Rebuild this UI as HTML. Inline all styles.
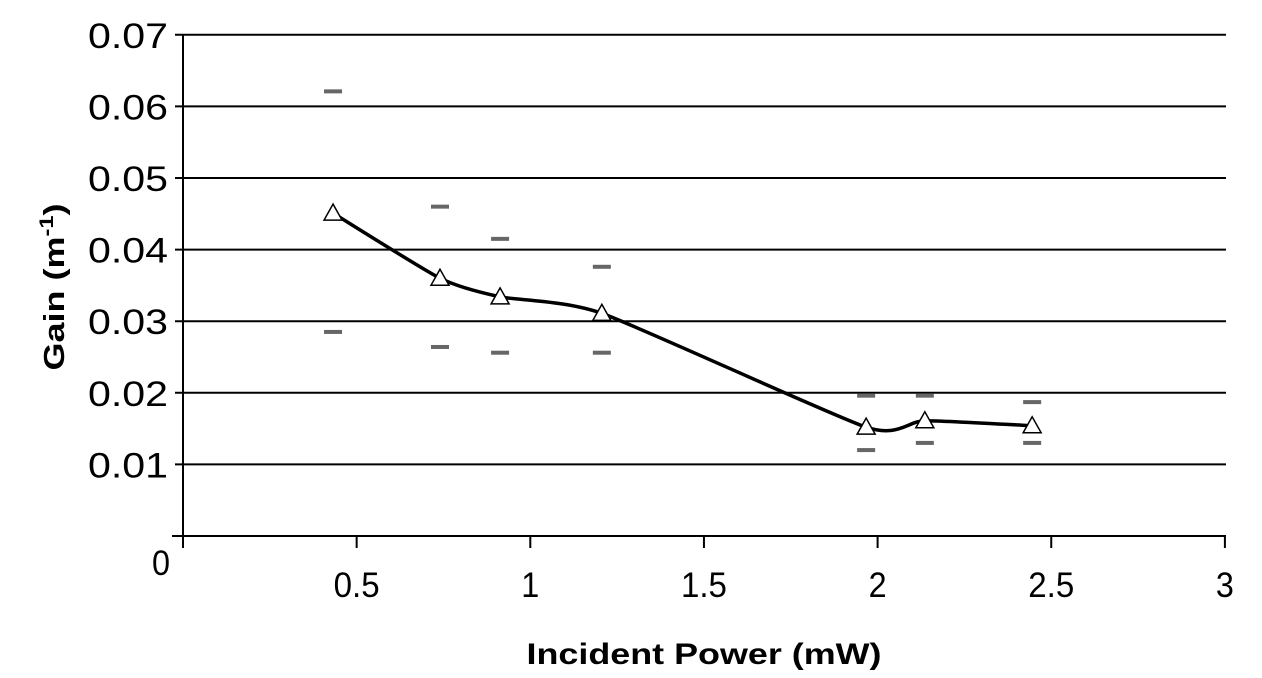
<!DOCTYPE html>
<html><head><meta charset="utf-8"><style>
body{margin:0;background:#fff;}
svg{display:block;font-family:"Liberation Sans",Arial,sans-serif;}
</style></head><body>
<svg id="chart" width="1262" height="678" viewBox="0 0 1262 678">
<g id="grid"></g>
<g id="axes"></g>
<g id="marks"></g>
<text transform="translate(64,287) rotate(-90)" text-anchor="middle" font-size="29" font-weight="bold" textLength="167" lengthAdjust="spacingAndGlyphs">Gain (m<tspan dy="-11" font-size="19">-1</tspan><tspan dy="11">)</tspan></text>
<text x="704" y="664" text-anchor="middle" font-size="30" font-weight="bold" textLength="355" lengthAdjust="spacingAndGlyphs">Incident Power (mW)</text>
</svg>
<script>
const xs=[0.432,0.74,0.913,1.206,1.967,2.136,2.445];
const gain=[0.0451,0.036,0.0334,0.0311,0.0152,0.0161,0.0154];
const upper=[0.0621,0.046,0.0415,0.0376,0.0196,0.0196,0.0187];
const lower=[0.0285,0.0264,0.0256,0.0256,0.012,0.013,0.013];
const yTicks=["0.01","0.02","0.03","0.04","0.05","0.06","0.07"];
const xTicks=["0.5","1","1.5","2","2.5","3"];
const NS="http://www.w3.org/2000/svg";
const X=v=>183+v*347.3, Y=v=>536-v*7160;
function mk(t,a,p){const e=document.createElementNS(NS,t);for(const k in a)e.setAttribute(k,a[k]);p.appendChild(e);return e;}
const grid=document.getElementById('grid'),axes=document.getElementById('axes'),marks=document.getElementById('marks');
yTicks.forEach(t=>{const v=parseFloat(t),y=Y(v);
 const l=mk('line',{x1:175,x2:1226,y1:y,y2:y,stroke:'#000','stroke-width':2},grid);
 
 
 const tx=mk('text',{x:168,y:y+13,'text-anchor':'end','font-size':35,textLength:80,lengthAdjust:'spacingAndGlyphs'},axes);tx.textContent=t;
 
 
});
const ya=mk('line',{x1:183,x2:183,y1:Y(0.07),y2:548,stroke:'#000','stroke-width':2},axes);


const xa=mk('line',{x1:172,x2:1226,y1:536,y2:536,stroke:'#000','stroke-width':2},axes);


const z=mk('text',{x:161,y:575,'text-anchor':'middle','font-size':35,textLength:18,lengthAdjust:'spacingAndGlyphs'},axes);z.textContent='0';


xTicks.forEach(t=>{const x=X(parseFloat(t));
 mk('line',{x1:x,x2:x,y1:536,y2:548,stroke:'#000','stroke-width':2},axes);
 const w=t.length===1?18:(t.length===3?46:80);
 const tx=mk('text',{x:x,y:597,'text-anchor':'middle','font-size':35,textLength:w,lengthAdjust:'spacingAndGlyphs'},axes);tx.textContent=t;
 
 
});
const P=xs.map((v,i)=>[X(v),Y(gain[i])]);
let d='M'+P[0][0]+','+P[0][1];
for(let i=0;i<P.length-1;i++){const p0=P[i-1]||P[i],p1=P[i],p2=P[i+1],p3=P[i+2]||P[i+1];
 d+=` C${p1[0]+(p2[0]-p0[0])/10},${p1[1]+(p2[1]-p0[1])/10} ${p2[0]-(p3[0]-p1[0])/10},${p2[1]-(p3[1]-p1[1])/10} ${p2[0]},${p2[1]}`;}
const path=mk('path',{d:d,fill:'none',stroke:'#000','stroke-width':3.5},marks);


xs.forEach((v,i)=>{const x=X(v);
 [upper[i],lower[i]].forEach((u,j)=>{const r=mk('rect',{x:x-9,y:Y(u)-2,width:18,height:4,fill:'#666'},marks);
  
  });
 const y=Y(gain[i]);
 const t=mk('polygon',{points:`${x},${y-9} ${x-9},${y+7} ${x+9},${y+7}`,fill:'#fff',stroke:'#000','stroke-width':1.5},marks);
 
 
});
</script>
</body></html>
